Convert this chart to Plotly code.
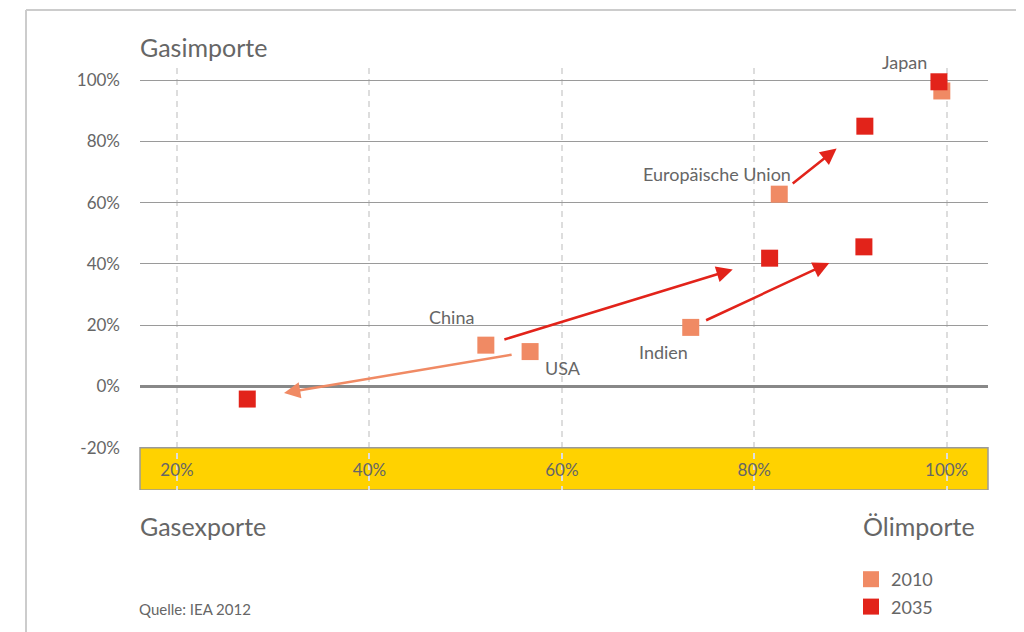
import plotly.graph_objects as go

# ---------------- data ----------------
countries = ["Japan", "Europäische Union", "China", "USA", "Indien"]
oil_imports_2010 = [99.5, 82.6, 52.1, 56.7, 73.4]   # x (Ölimporte, %)
gas_imports_2010 = [96.5, 62.8, 13.5, 11.4, 19.3]   # y (Gasimporte, %)
oil_imports_2035 = [99.2, 91.5, 81.6, 27.3, 91.4]
gas_imports_2035 = [99.5, 85.0, 41.9, -4.1, 45.6]

x_ticks = [20, 40, 60, 80, 100]
x_tick_labels = ["20%", "40%", "60%", "80%", "100%"]
y_ticks = [-20, 0, 20, 40, 60, 80, 100]
y_tick_labels = ["-20%", "0%", "20%", "40%", "60%", "80%", "100%"]

# ---------------- style ----------------
FONT = "Lato"
TXT = "#666666"
C2010 = "#F08A64"
C2035 = "#E2231A"
YELLOW = "#FFD200"
GRID = "#9a9a9a"

X_RANGE = [16.15, 104.3]
Y_RANGE = [-33.8, 104.0]
OFF = 8                       # page body margin
W, H = 1024 - OFF, 632 - OFF
# plot area in page pixels: x 140..988, y 68..490
L, T = 140 - OFF, 68 - OFF
R, B = W - (988 - OFF), H - (490 - OFF)
PW, PH = W - L - R, H - T - B


def px_x(p):  # page pixel -> paper x
    return (p - OFF - L) / PW


def px_y(p):  # page pixel -> paper y
    return (H - B - (p - OFF)) / PH


fig = go.Figure()

fig.add_trace(go.Scatter(
    x=oil_imports_2010, y=gas_imports_2010, mode="markers", name="2010",
    marker=dict(symbol="square", size=17, color=C2010, line=dict(width=0)),
    legendgroup="a", hoverinfo="skip"))
fig.add_trace(go.Scatter(
    x=oil_imports_2035, y=gas_imports_2035, mode="markers", name="2035",
    marker=dict(symbol="square", size=17, color=C2035, line=dict(width=0)),
    legendgroup="b", hoverinfo="skip"))

# arrows (start/end as fractions along 2010 -> 2035 movement)
arrow_frac = {"Japan": None, "Europäische Union": (0.14, 0.67), "China": (0.06, 0.87),
              "USA": (0.06, 0.87), "Indien": (0.08, 0.80)}
arrow_col = {"Europäische Union": C2035, "China": C2035, "USA": C2010, "Indien": C2035}
annotations = []
for i, c in enumerate(countries):
    fr = arrow_frac[c]
    if fr is None:
        continue
    x0, y0 = oil_imports_2010[i], gas_imports_2010[i]
    dx, dy = oil_imports_2035[i] - x0, gas_imports_2035[i] - y0
    annotations.append(dict(
        x=x0 + fr[1] * dx, y=y0 + fr[1] * dy, ax=x0 + fr[0] * dx, ay=y0 + fr[0] * dy,
        xref="x", yref="y", axref="x", ayref="y", text="", showarrow=True,
        arrowhead=2, arrowsize=1.3, arrowwidth=2.5, arrowcolor=arrow_col[c],
        standoff=0, startstandoff=0))

# country labels, attached to points
label_spec = {
    "Japan": ("2035", "center", -34, 20),
    "Europäische Union": ("2010", "right", 14, 20),
    "China": ("2010", "left", -59, 28),
    "USA": ("2010", "left", 13, -16),
    "Indien": ("2010", "left", -54, -25),
}
for i, c in enumerate(countries):
    yr, anc, xs, ys = label_spec[c]
    xx = oil_imports_2010[i] if yr == "2010" else oil_imports_2035[i]
    yy = gas_imports_2010[i] if yr == "2010" else gas_imports_2035[i]
    annotations.append(dict(x=xx, y=yy, xref="x", yref="y", text=c, showarrow=False,
                            xanchor=anc, yanchor="middle", xshift=xs, yshift=ys,
                            font=dict(family=FONT, size=18, color=TXT)))

# titles & source
annotations += [
    dict(x=px_x(138), y=px_y(47), xref="paper", yref="paper", text="Gasimporte",
         showarrow=False, xanchor="left", yanchor="middle",
         font=dict(family=FONT, size=25, color=TXT)),
    dict(x=px_x(138), y=px_y(526), xref="paper", yref="paper", text="Gasexporte",
         showarrow=False, xanchor="left", yanchor="middle",
         font=dict(family=FONT, size=25, color=TXT)),
    dict(x=px_x(977), y=px_y(526), xref="paper", yref="paper", text="Ölimporte",
         showarrow=False, xanchor="right", yanchor="middle",
         font=dict(family=FONT, size=25, color=TXT)),
    dict(x=px_x(137), y=px_y(609), xref="paper", yref="paper", text="Quelle: IEA 2012",
         showarrow=False, xanchor="left", yanchor="middle",
         font=dict(family=FONT, size=15, color=TXT)),
]

shapes = [
    # yellow band for the x axis
    dict(type="rect", xref="paper", yref="y", x0=0, x1=1, y0=Y_RANGE[0], y1=-20,
         fillcolor=YELLOW, line=dict(color=GRID, width=1.5), layer="between"),
    # white strip hiding the dashed grid above the 100% line
    dict(type="rect", xref="paper", yref="y", x0=0, x1=1, y0=100.6, y1=Y_RANGE[1],
         fillcolor="white", line=dict(width=0), layer="between"),
    # outer frame
    dict(type="line", xref="paper", yref="paper", x0=px_x(26), x1=px_x(26),
         y0=px_y(10), y1=px_y(650), line=dict(color="#cccccc", width=2)),
    dict(type="line", xref="paper", yref="paper", x0=px_x(26), x1=px_x(1040),
         y0=px_y(10), y1=px_y(10), line=dict(color="#cccccc", width=2)),
]

fig.update_layout(
    width=W, height=H, margin=dict(l=L, r=R, t=T, b=B, autoexpand=False),
    paper_bgcolor="white", plot_bgcolor="white",
    font=dict(family=FONT, color=TXT),
    showlegend=True,
    legend=dict(x=px_x(851), y=px_y(561), xanchor="left", yanchor="top",
                font=dict(family=FONT, size=18, color=TXT), tracegroupgap=1,
                itemwidth=30, bgcolor="rgba(0,0,0,0)"),
    annotations=annotations, shapes=shapes,
    xaxis=dict(range=X_RANGE, tickvals=x_ticks, ticktext=x_tick_labels, showgrid=True,
               gridcolor="#dddddd", griddash="6px,5px", gridwidth=1.5, zeroline=False,
               showline=False, ticks="", ticklabelposition="inside", ticklabelstandoff=8,
               tickfont=dict(family=FONT, size=17, color=TXT)),
    yaxis=dict(range=Y_RANGE, tickvals=y_ticks, ticktext=y_tick_labels, showgrid=True,
               gridcolor=GRID, gridwidth=1.2, zeroline=True, zerolinecolor="#888888",
               zerolinewidth=2.5, showline=False, ticks="", ticklabelstandoff=19,
               tickfont=dict(family=FONT, size=17, color=TXT)),
)

fig.write_html("out.html")
